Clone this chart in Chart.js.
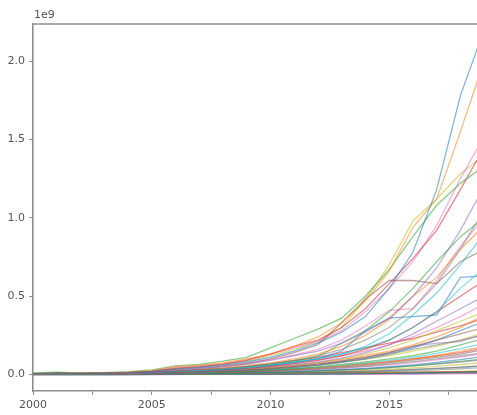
<!DOCTYPE html>
<html>
<head>
<meta charset="utf-8">
<script src="https://cdn.jsdelivr.net/npm/chart.js@4"></script>
<style>
  html, body { margin: 0; padding: 0; background: #fff; }
  canvas { display: block; }
</style>
</head>
<body>
<canvas id="c" width="477" height="415"></canvas>
<script>
// ---- data (values in units of 1e9) ----
const years = [2000,2001,2002,2003,2004,2005,2006,2007,2008,2009,2010,2011,2012,2013,2014,2015,2016,2017,2018,2019];
const xTicks = [2000, 2002.5, 2005, 2007.5, 2010, 2012.5, 2015, 2017.5];
const yTicks = [0, 0.5, 1.0, 1.5, 2.0];
const offsetLabel = "1e9";

const s01 = [0.005,0.01,0.008,0.01,0.012,0.02,0.035,0.045,0.06,0.08,0.11,0.15,0.2,0.27,0.37,0.55,0.78,1.18,1.78,2.2];
const s02 = [0.005,0.01,0.01,0.012,0.015,0.025,0.05,0.06,0.075,0.1,0.13,0.18,0.24,0.33,0.47,0.66,0.94,1.12,1.55,2.0];
const s03 = [0.01,0.015,0.01,0.012,0.018,0.03,0.055,0.065,0.085,0.11,0.17,0.23,0.29,0.36,0.5,0.67,0.88,1.08,1.22,1.33];
const s04 = [0.005,0.008,0.008,0.01,0.012,0.02,0.04,0.05,0.065,0.09,0.13,0.18,0.22,0.3,0.42,0.58,0.74,0.92,1.18,1.45];
const s05 = [0.005,0.008,0.008,0.008,0.01,0.015,0.03,0.04,0.05,0.065,0.09,0.12,0.15,0.2,0.27,0.36,0.5,0.68,0.92,1.2];
const s06 = [0.004,0.006,0.006,0.007,0.009,0.014,0.025,0.035,0.05,0.07,0.1,0.14,0.19,0.33,0.48,0.6,0.6,0.58,0.72,0.8];
const s07 = [0.006,0.01,0.01,0.01,0.013,0.022,0.045,0.055,0.07,0.095,0.13,0.17,0.21,0.28,0.4,0.55,0.72,0.95,1.25,1.52];
const s08 = [0.003,0.005,0.005,0.006,0.008,0.012,0.02,0.028,0.038,0.05,0.07,0.09,0.12,0.16,0.22,0.3,0.42,0.58,0.8,1.05];
const s09 = [0.005,0.008,0.008,0.009,0.012,0.02,0.04,0.05,0.065,0.085,0.12,0.16,0.21,0.3,0.48,0.7,0.98,1.12,1.28,1.4];
const s10 = [0.003,0.005,0.005,0.006,0.008,0.012,0.02,0.025,0.033,0.045,0.06,0.08,0.1,0.13,0.17,0.22,0.3,0.4,0.55,0.68];
const s11 = [0.003,0.005,0.005,0.005,0.007,0.01,0.018,0.024,0.032,0.043,0.058,0.077,0.1,0.15,0.28,0.36,0.37,0.38,0.62,0.63];
const s12 = [0.004,0.006,0.006,0.007,0.009,0.014,0.024,0.032,0.043,0.057,0.075,0.1,0.13,0.18,0.25,0.35,0.5,0.62,0.8,0.95];
const s13 = [0.004,0.006,0.006,0.006,0.008,0.012,0.021,0.028,0.037,0.05,0.066,0.088,0.115,0.2,0.28,0.4,0.55,0.72,0.88,1.0];
const s14 = [0.003,0.005,0.005,0.005,0.007,0.01,0.017,0.023,0.03,0.04,0.053,0.07,0.09,0.12,0.16,0.22,0.3,0.4,0.5,0.6];
const s15 = [0.003,0.004,0.004,0.005,0.006,0.009,0.015,0.02,0.027,0.036,0.047,0.062,0.08,0.105,0.14,0.19,0.26,0.34,0.42,0.5];
const s16 = [0.002,0.004,0.004,0.004,0.005,0.008,0.013,0.017,0.023,0.03,0.04,0.052,0.067,0.087,0.11,0.14,0.18,0.22,0.26,0.3];
const s17 = [0.005,0.008,0.008,0.009,0.011,0.018,0.032,0.042,0.055,0.072,0.095,0.125,0.16,0.22,0.31,0.41,0.42,0.6,0.82,1.0];
const s18 = [0.002,0.003,0.003,0.004,0.005,0.007,0.012,0.016,0.021,0.027,0.035,0.046,0.06,0.078,0.1,0.13,0.16,0.19,0.22,0.25];
const s19 = [0.003,0.004,0.004,0.005,0.006,0.009,0.015,0.02,0.026,0.034,0.045,0.058,0.075,0.1,0.13,0.17,0.22,0.28,0.34,0.4];
const s20 = [0.003,0.005,0.005,0.006,0.007,0.011,0.019,0.025,0.033,0.044,0.058,0.076,0.1,0.13,0.18,0.26,0.38,0.52,0.7,0.9];
const s21 = [0.002,0.003,0.003,0.004,0.005,0.007,0.012,0.016,0.02,0.027,0.035,0.045,0.06,0.08,0.1,0.13,0.17,0.22,0.28,0.34];
const s22 = [0.003,0.004,0.004,0.005,0.006,0.009,0.015,0.02,0.026,0.034,0.045,0.058,0.075,0.095,0.12,0.15,0.19,0.24,0.3,0.38];
const s23 = [0.002,0.003,0.003,0.003,0.004,0.006,0.01,0.013,0.017,0.022,0.03,0.038,0.05,0.065,0.08,0.1,0.12,0.15,0.19,0.23];
const s24 = [0.004,0.006,0.006,0.007,0.009,0.013,0.022,0.03,0.04,0.052,0.068,0.088,0.11,0.14,0.17,0.2,0.23,0.27,0.31,0.36];
const s25 = [0.002,0.003,0.003,0.004,0.005,0.008,0.013,0.018,0.024,0.03,0.04,0.052,0.066,0.085,0.11,0.14,0.18,0.2,0.21,0.26];
const s26 = [0.001,0.002,0.002,0.002,0.003,0.005,0.008,0.011,0.014,0.018,0.024,0.03,0.038,0.048,0.06,0.075,0.092,0.11,0.13,0.16];
const s27 = [0.003,0.005,0.005,0.006,0.007,0.011,0.019,0.025,0.033,0.043,0.056,0.072,0.092,0.12,0.15,0.19,0.24,0.3,0.37,0.45];
const s28 = [0.001,0.002,0.002,0.002,0.003,0.004,0.007,0.009,0.012,0.015,0.02,0.026,0.033,0.042,0.053,0.066,0.082,0.1,0.12,0.14];
const s29 = [0.002,0.003,0.003,0.004,0.005,0.007,0.012,0.016,0.021,0.028,0.036,0.047,0.06,0.077,0.098,0.12,0.15,0.18,0.22,0.27];
const s30 = [0.001,0.002,0.002,0.003,0.004,0.006,0.01,0.013,0.017,0.022,0.028,0.036,0.046,0.058,0.073,0.09,0.11,0.135,0.165,0.2];
const s31 = [0.001,0.001,0.001,0.002,0.002,0.003,0.005,0.007,0.009,0.012,0.015,0.019,0.025,0.032,0.04,0.05,0.062,0.077,0.095,0.115];
const s32 = [0.002,0.002,0.002,0.003,0.004,0.005,0.009,0.012,0.015,0.02,0.026,0.033,0.042,0.053,0.066,0.082,0.1,0.12,0.15,0.18];
const s33 = [0.001,0.001,0.001,0.001,0.002,0.003,0.004,0.006,0.008,0.01,0.013,0.017,0.022,0.028,0.035,0.044,0.055,0.068,0.084,0.1];
const s34 = [0.002,0.002,0.003,0.003,0.004,0.006,0.01,0.013,0.017,0.022,0.028,0.035,0.044,0.055,0.068,0.083,0.1,0.12,0.14,0.17];
const s35 = [0.001,0.001,0.001,0.002,0.002,0.003,0.005,0.007,0.009,0.011,0.014,0.018,0.023,0.029,0.036,0.045,0.055,0.067,0.08,0.095];
const s36 = [0.001,0.001,0.001,0.001,0.001,0.002,0.003,0.004,0.005,0.007,0.009,0.011,0.014,0.018,0.022,0.027,0.033,0.04,0.048,0.057];
const s37 = [0.001,0.002,0.002,0.002,0.003,0.004,0.007,0.009,0.012,0.016,0.02,0.025,0.032,0.04,0.05,0.062,0.076,0.093,0.112,0.135];
const s38 = [0.001,0.001,0.001,0.001,0.001,0.002,0.002,0.003,0.004,0.005,0.006,0.008,0.01,0.013,0.016,0.02,0.025,0.03,0.037,0.045];
const s39 = [0.001,0.001,0.001,0.001,0.002,0.002,0.004,0.005,0.006,0.008,0.011,0.014,0.017,0.022,0.027,0.034,0.042,0.052,0.064,0.078];
const s40 = [0.001,0.001,0.001,0.001,0.001,0.002,0.003,0.004,0.005,0.006,0.008,0.01,0.013,0.016,0.02,0.025,0.031,0.038,0.046,0.056];
const s41 = [0.0,0.0,0.0,0.0,0.0,0.001,0.001,0.001,0.002,0.002,0.003,0.003,0.004,0.005,0.006,0.008,0.01,0.012,0.015,0.018];
const s42 = [0.001,0.001,0.001,0.001,0.001,0.001,0.002,0.002,0.003,0.003,0.004,0.005,0.006,0.008,0.01,0.012,0.014,0.017,0.02,0.024];
const s43 = [0.0,0.0,0.0,0.0,0.001,0.001,0.001,0.002,0.002,0.003,0.003,0.004,0.005,0.006,0.007,0.009,0.011,0.013,0.016,0.02];
const s44 = [0.002,0.003,0.003,0.003,0.003,0.004,0.005,0.006,0.007,0.008,0.009,0.01,0.011,0.012,0.013,0.014,0.015,0.016,0.017,0.018];
const s45 = [0.0,0.0,0.0,0.0,0.0,0.0,0.001,0.001,0.001,0.001,0.002,0.002,0.002,0.003,0.003,0.004,0.005,0.006,0.007,0.009];
const s46 = [0.001,0.002,0.002,0.002,0.002,0.003,0.004,0.004,0.005,0.006,0.006,0.007,0.008,0.009,0.01,0.011,0.012,0.013,0.015,0.017];
const s47 = [0.0,0.0,0.0,0.0,0.0,0.0,0.0,0.001,0.001,0.001,0.001,0.001,0.002,0.002,0.002,0.003,0.003,0.004,0.005,0.006];
const s48 = [0.001,0.001,0.001,0.001,0.001,0.002,0.002,0.003,0.003,0.004,0.004,0.005,0.006,0.007,0.008,0.009,0.01,0.012,0.014,0.016];
const s49 = [0.0,0.0,0.0,0.0,0.0,0.001,0.001,0.001,0.001,0.002,0.002,0.002,0.003,0.003,0.004,0.005,0.006,0.007,0.008,0.01];
const s50 = [0.003,0.004,0.004,0.004,0.004,0.005,0.006,0.007,0.008,0.009,0.01,0.011,0.012,0.013,0.014,0.015,0.016,0.017,0.019,0.021];

const seriesList = [s01,s02,s03,s04,s05,s06,s07,s08,s09,s10,s11,s12,s13,s14,s15,s16,s17,s18,s19,s20,
  s21,s22,s23,s24,s25,s26,s27,s28,s29,s30,s31,s32,s33,s34,s35,s36,s37,s38,s39,s40,
  s41,s42,s43,s44,s45,s46,s47,s48,s49,s50];

// ---- style ----
const tab10 = ['31,119,180','255,127,14','44,160,44','214,39,40','148,103,189','140,86,75','227,119,194','127,127,127','188,189,34','23,190,207'];

const datasets = seriesList.map((vals, i) => ({
  data: years.map((yr, j) => ({ x: yr, y: vals[j] })),
  borderColor: 'rgba(' + tab10[i % 10] + ',0.55)',
  borderWidth: 1.3,
  pointRadius: 0,
  tension: 0,
  fill: false
}));

const fontSpec = { family: 'DejaVu Sans', size: 11 };
const axisColor = '#8e8e8e';
const textColor = '#555';

const topSpine = {
  id: 'topSpine',
  afterDraw(chart) {
    const { ctx, chartArea } = chart;
    ctx.save();
    ctx.strokeStyle = axisColor;
    ctx.lineWidth = 1.6;
    ctx.beginPath();
    ctx.moveTo(chartArea.left, chartArea.top);
    ctx.lineTo(chart.width, chartArea.top);
    ctx.stroke();
    ctx.fillStyle = textColor;
    ctx.font = '11px "DejaVu Sans"';
    ctx.textBaseline = 'middle';
    ctx.textAlign = 'left';
    ctx.fillText(offsetLabel, chartArea.left + 1, 15);
    ctx.restore();
  }
};

new Chart(document.getElementById('c'), {
  type: 'line',
  data: { datasets },
  plugins: [topSpine],
  options: {
    responsive: false,
    animation: false,
    events: [],
    layout: { padding: { top: 24, right: 0, left: 0, bottom: 0 } },
    plugins: { legend: { display: false }, tooltip: { enabled: false } },
    scales: {
      x: {
        type: 'linear',
        min: 2000,
        max: 2018.7,
        afterBuildTicks: s => { s.ticks = xTicks.map(v => ({ value: v })); },
        afterFit: s => { s.height = 24; },
        border: { color: axisColor, width: 1.6 },
        grid: { drawOnChartArea: false, drawTicks: true, tickLength: 4, tickColor: axisColor },
        ticks: {
          font: fontSpec, color: textColor, padding: 4, maxRotation: 0, autoSkip: false,
          callback: v => (v % 5 === 0 ? String(v) : '')
        }
      },
      y: {
        type: 'linear',
        min: -0.105,
        max: 2.237,
        afterBuildTicks: s => { s.ticks = yTicks.map(v => ({ value: v })); },
        afterFit: s => { s.width = 33; },
        border: { color: axisColor, width: 1.6 },
        grid: { drawOnChartArea: false, drawTicks: true, tickLength: 4, tickColor: axisColor },
        ticks: {
          font: fontSpec, color: textColor, padding: 4,
          callback: v => Number(v).toFixed(1)
        }
      }
    }
  }
});
</script>
</body>
</html>
